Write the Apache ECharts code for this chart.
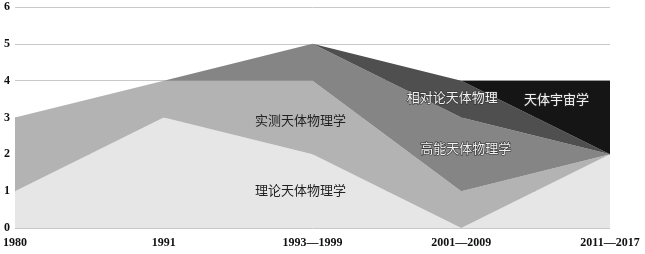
<!DOCTYPE html>
<html lang="zh">
<head>
    <meta charset="utf-8">
    <script src="https://cdn.jsdelivr.net/npm/echarts@6/dist/echarts.min.js"></script>
    <style>
        html, body { margin: 0; padding: 0; background: #fff; }
        #main { width: 645px; height: 254px; }
    </style>
</head>
<body>
<div id="main"></div>
<script>
    var periods = ['1980', '1991', '1993—1999', '2001—2009', '2011—2017'];
    var yTicks = [0, 1, 2, 3, 4, 5, 6];

    var names = ['理论天体物理学', '实测天体物理学', '高能天体物理学', '相对论天体物理', '天体宇宙学'];
    var lilun = [1, 3, 2, 0, 2];
    var shice = [2, 1, 2, 1, 0];
    var gaoneng = [0, 0, 1, 2, 0];
    var xiangdui = [0, 0, 0, 1, 0];
    var yuzhou = [0, 0, 0, 0, 2];
    var colors = ['#e6e6e6', '#b3b3b3', '#858585', '#4f4f4f', '#151515'];

    // label anchors in data units [category index, value]
    var labelPos = [[1.92, 1.03], [1.92, 2.93], [3.03, 2.17], [2.94, 3.56], [3.64, 3.5]];
    var labelLight = [false, false, true, true, true];

    var chart = echarts.init(document.getElementById('main'));
    var all = [lilun, shice, gaoneng, xiangdui, yuzhou];

    chart.setOption({
        animation: false,
        grid: { left: 14, right: 35, top: 7, bottom: 26 },
        xAxis: {
            type: 'category',
            data: periods,
            boundaryGap: false,
            axisLine: { show: false },
            axisTick: { show: false },
            axisLabel: {
                margin: 9,
                color: '#111',
                fontFamily: 'Liberation Serif',
                fontWeight: 'bold',
                fontSize: 12
            }
        },
        yAxis: {
            type: 'value',
            min: yTicks[0],
            max: yTicks[yTicks.length - 1],
            interval: 1,
            axisLine: { show: false },
            axisTick: { show: false },
            axisLabel: {
                margin: 5,
                color: '#111',
                fontFamily: 'Liberation Serif',
                fontWeight: 'bold',
                fontSize: 12
            },
            splitLine: { lineStyle: { color: '#c8c8c8', width: 1 } }
        },
        series: all.map(function (d, i) {
            return {
                name: names[i],
                type: 'line',
                stack: 'total',
                data: d,
                symbol: 'none',
                lineStyle: { width: 0 },
                areaStyle: { color: colors[i], opacity: 1 },
                z: 2
            };
        })
    });

    // category axis rounds fractional indices, so interpolate between neighbours
    function toPixel(pos) {
        var i0 = Math.floor(pos[0]), t = pos[0] - i0;
        var i1 = Math.min(i0 + 1, periods.length - 1);
        var a = chart.convertToPixel({ gridIndex: 0 }, [i0, pos[1]]);
        var b = chart.convertToPixel({ gridIndex: 0 }, [i1, pos[1]]);
        return [a[0] + (b[0] - a[0]) * t, a[1]];
    }

    var texts = names.map(function (n, i) {
        var p = toPixel(labelPos[i]);
        return {
            type: 'text',
            x: p[0],
            y: p[1],
            z: 10,
            style: {
                text: n,
                align: 'center',
                verticalAlign: 'middle',
                fontFamily: 'Noto Sans CJK SC',
                fontSize: 13,
                fill: labelLight[i] ? '#f2f2f2' : '#222',
                stroke: labelLight[i] ? '#333' : null,
                lineWidth: labelLight[i] ? 1.2 : 0
            }
        };
    });
    chart.setOption({ graphic: texts });
</script>
</body>
</html>
